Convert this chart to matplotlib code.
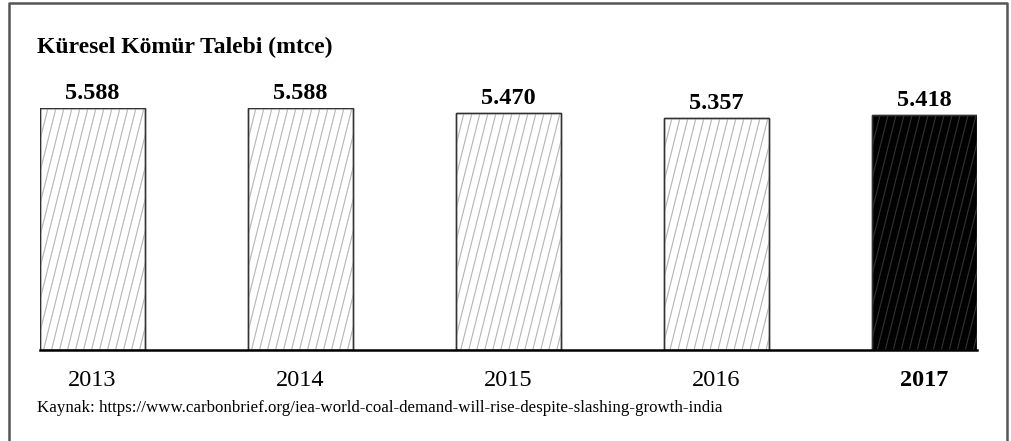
import matplotlib
matplotlib.use("Agg")
import matplotlib.pyplot as plt
import numpy as np
from matplotlib.lines import Line2D
from matplotlib.transforms import IdentityTransform

years = ["2013", "2014", "2015", "2016", "2017"]
values = [5588, 5588, 5470, 5357, 5418]
value_labels = ["5.588", "5.588", "5.470", "5.357", "5.418"]
title = "Küresel Kömür Talebi (mtce)"
source = "Kaynak: https://www.carbonbrief.org/iea-world-coal-demand-will-rise-despite-slashing-growth-india"

plt.rcParams['font.family'] = ['Liberation Serif', 'DejaVu Serif']

W, H = 1012, 441
fig = plt.figure(figsize=(W / 100, H / 100), dpi=100)
ax = fig.add_axes([40 / W, (H - 350) / H, (977 - 40) / W, (350 - 108) / H])

x = np.arange(len(years))
bw = 0.505
colors = ["white"] * 4 + ["black"]
bars = ax.bar(x, values, width=bw, color=colors, edgecolor="#333333", linewidth=1.0, zorder=1)
ax.set_xlim(-bw / 2, len(years) - 1 + bw / 2)
ax.set_ylim(0, max(values))
ax.axis("off")
ax.axhline(0, color="black", lw=1.8, zorder=5, clip_on=False)

fig.canvas.draw()
# steep hatch lines clipped to each bar
for b, c in zip(bars, colors):
    bb = b.get_window_extent()
    x0, x1, y0, y1 = bb.x0, bb.x1, bb.y0, bb.y1
    h = y1 - y0
    slope = 4.0
    sp = 8.0
    lc = "#b4b4b4" if c == "white" else "#333333"
    start = x0 - h / slope
    for cx in np.arange(start, x1 + sp, sp):
        ln = Line2D([cx, cx + h / slope], [y0, y1], transform=IdentityTransform(),
                    color=lc, lw=0.8, zorder=2)
        ax.add_line(ln)
        ln.set_clip_path(b)
    # redraw edge on top
    ax.add_patch(plt.Rectangle(b.get_xy(), b.get_width(), b.get_height(), fill=False,
                               edgecolor="#333333", lw=1.0, zorder=4))

for xi, v, lab in zip(x, values, value_labels):
    ax.annotate(lab, (xi, v), xytext=(0, 3), textcoords="offset points",
                ha="center", va="bottom", fontsize=17.5, fontweight="bold", clip_on=False)

for i, yr in enumerate(years):
    fig.text(ax.transData.transform((i, 0))[0] / W, 1 - 386 / H, yr, ha="center", va="baseline",
             fontsize=17.5, fontweight="bold" if i == len(years) - 1 else "normal")

fig.text(37 / W, 1 - 53 / H, title, ha="left", va="baseline", fontsize=17, fontweight="bold")
fig.text(37 / W, 1 - 412 / H, source, ha="left", va="baseline", fontsize=12.2)

frame_c = "#555555"
fig.add_artist(Line2D([9 / W, 9 / W, 1007 / W, 1007 / W], [0, 1 - 3 / H, 1 - 3 / H, 0],
                      transform=fig.transFigure, color=frame_c, lw=1.8))

fig.savefig("out.png", dpi=100, facecolor="white")
